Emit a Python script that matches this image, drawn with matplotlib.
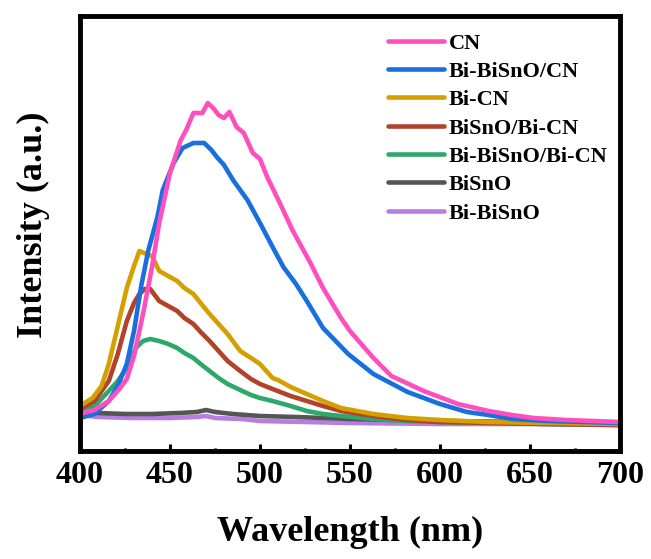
import matplotlib
matplotlib.use("Agg")
import matplotlib.pyplot as plt
from matplotlib.ticker import MultipleLocator

plt.rcParams['font.family'] = ['Liberation Serif', 'DejaVu Serif']
plt.rcParams['font.weight'] = 'bold'

labels = ["CN", "Bi-BiSnO/CN", "Bi-CN", "BiSnO/Bi-CN", "Bi-BiSnO/Bi-CN", "BiSnO", "Bi-BiSnO"]
colors = ["#ff4fbf", "#1a6fdf", "#d4a000", "#b0432a", "#2ca86a", "#555555", "#b77ee0"]

cn_x = [400, 408, 416, 421, 426, 430, 435, 440, 444, 450, 456, 459, 463, 468, 471, 474, 477, 480, 483, 487, 491, 496, 500, 504, 511, 518, 528, 535, 545, 550, 563, 573, 591, 610, 627, 640, 652, 670, 685, 700]
cn_y = [37, 41, 50, 60, 72, 95, 137, 184, 228, 278, 311, 321, 338, 338, 348, 343, 336, 333, 339, 324, 318, 298, 292, 274, 248, 221, 188, 163, 133, 120, 93, 75, 60, 47, 40, 36, 33, 31, 30, 29]

bbcn_x = [400, 408, 416, 421, 426, 430, 434, 438, 443, 446, 452, 457, 463, 469, 473, 476, 480, 485, 493, 500, 507, 513, 520, 526, 535, 549, 563, 582, 600, 615, 627, 640, 660, 680, 700]
bbcn_y = [33, 37, 50, 65, 87, 120, 165, 201, 234, 261, 288, 303, 308, 308, 301, 294, 286, 271, 251, 228, 204, 184, 167, 150, 123, 97, 77, 59, 47, 39, 36, 32, 30, 29, 28]

bicn_x = [400, 407, 412, 416, 421, 426, 430, 433, 437, 440, 444, 449, 454, 458, 463, 467, 472, 477, 482, 489, 495, 500, 507, 510, 517, 526, 535, 545, 563, 582, 600, 627, 660, 700]
bicn_y = [45, 53, 65, 87, 125, 163, 185, 200, 197, 195, 180, 175, 170, 163, 157, 148, 137, 127, 117, 100, 93, 87, 73, 71, 64, 57, 50, 43, 37, 33, 31, 29, 28, 27]

sbcn_x = [400, 408, 416, 421, 426, 430, 433, 436, 439, 444, 449, 454, 458, 463, 467, 472, 477, 482, 489, 495, 500, 507, 517, 526, 535, 545, 563, 582, 600, 630, 660, 700]
sbcn_y = [42, 50, 70, 97, 130, 148, 157, 162, 162, 150, 145, 140, 133, 127, 119, 110, 100, 90, 80, 72, 67, 62, 55, 50, 45, 40, 35, 31, 29, 28, 27, 26]

bbbcn_x = [400, 408, 416, 421, 426, 431, 435, 439, 444, 449, 454, 458, 463, 467, 472, 477, 482, 489, 495, 500, 507, 517, 526, 535, 545, 563, 582, 600, 630, 660, 700]
bbbcn_y = [38, 45, 60, 70, 83, 103, 110, 112, 110, 107, 103, 98, 93, 87, 80, 73, 67, 61, 56, 53, 50, 45, 40, 37, 35, 32, 30, 29, 28, 27, 26]

bs_x = [400, 410, 425, 440, 455, 465, 470, 475, 485, 500, 520, 550, 600, 650, 700]
bs_y = [40, 38, 37, 37, 38, 39, 41, 39, 37, 35, 34, 32, 30, 29, 28]

bbs_x = [400, 410, 430, 450, 465, 470, 475, 490, 500, 550, 600, 650, 700]
bbs_y = [36, 34, 33, 33, 34, 35, 33, 32, 30, 28, 27, 27, 26]

series = [(cn_x, cn_y), (bbcn_x, bbcn_y), (bicn_x, bicn_y), (sbcn_x, sbcn_y),
          (bbbcn_x, bbbcn_y), (bs_x, bs_y), (bbs_x, bbs_y)]

fig = plt.figure(figsize=(6.51, 5.59), dpi=100)
ax = fig.add_axes([80/651, 1-451/559, 540/651, 435/559])

# draw in reverse so that CN is on top
order = [6, 5, 4, 3, 2, 1, 0]
handles = [None]*7
for i in order:
    h, = ax.plot(series[i][0], series[i][1], color=colors[i], lw=3.3,
                 label=labels[i], solid_capstyle='round', solid_joinstyle='round')
    handles[i] = h

ax.set_xlim(400, 700)
ax.set_ylim(0, 435)
ax.set_yticks([])
ax.xaxis.set_major_locator(MultipleLocator(50))
ax.xaxis.set_minor_locator(MultipleLocator(25))
ax.tick_params(axis='x', which='major', direction='in', length=5, width=2.2,
               labelsize=23, pad=7)
ax.tick_params(axis='x', which='minor', direction='in', length=2.5, width=2.2)
for lab in ax.get_xticklabels():
    lab.set_fontweight('bold')
for s in ax.spines.values():
    s.set_linewidth(3.5)

ax.set_xlabel("Wavelength (nm)", fontsize=26, fontweight='bold')
ax.set_ylabel("Intensity (a.u.)", fontsize=26, fontweight='bold')
ax.xaxis.set_label_coords(0.5, -0.15)
ax.yaxis.set_label_coords(-0.056, 0.52)

leg = fig.legend(handles=handles, labels=labels, loc='upper left',
                 bbox_to_anchor=(388/651, 1-33/559), frameon=False,
                 prop={'family': 'Liberation Serif', 'weight': 'bold', 'size': 16},
                 handlelength=2.5, handletextpad=0.25, labelspacing=0.35,
                 borderpad=0, borderaxespad=0)
for lh in leg.get_lines():
    lh.set_linewidth(3.3)

fig.savefig("out.png", dpi=100)
